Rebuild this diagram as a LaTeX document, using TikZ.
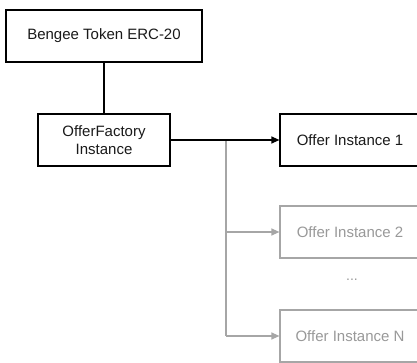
\documentclass[tikz,border=0pt]{standalone}
\usepackage{fontspec}
\setmainfont{Liberation Sans}
\usetikzlibrary{arrows.meta}
\definecolor{lgray}{HTML}{A6A6A6}
\definecolor{tgray}{HTML}{999999}
\definecolor{dtext}{HTML}{1A1A1A}
\begin{document}
\begin{tikzpicture}[x=1pt,y=-1pt,
  box/.style={draw=black,line width=1.2pt,fill=white,inner sep=0pt,align=center,text=dtext,font=\fontsize{15}{18}\selectfont},
  gbox/.style={box,draw=lgray,text=tgray},
  arr/.style={line width=1.2pt,-{Triangle[length=8pt,width=7pt]}}]
\useasboundingbox (0,0) rectangle (417,363);
\clip (0,0) rectangle (417,363);
\node[box,minimum width=196pt,minimum height=52pt] (tok) at (104,36) {Bengee Token ERC-20};
\node[box,minimum width=132pt,minimum height=52pt] (fac) at (104,140) {OfferFactory\\Instance};
\node[box,minimum width=140pt,minimum height=52pt] (o1) at (350,140) {Offer Instance 1};
\node[gbox,minimum width=140pt,minimum height=52pt] (o2) at (350,232) {Offer Instance 2};
\node[gbox,minimum width=140pt,minimum height=52pt] (on) at (350,336) {Offer Instance N};
\node[text=tgray,font=\fontsize{14}{16}\selectfont] (dots) at (352,280) {...};
\coordinate (br) at (226,140);
\draw[line width=1.2pt] (tok) -- (fac);
\draw[lgray,line width=1.2pt] (br) -- (br |- on.west);
\draw[arr,lgray] (br |- o2.west) -- (o2.west);
\draw[arr,lgray] (br |- on.west) -- (on.west);
\draw[arr] (fac.east) -- (o1.west);
\end{tikzpicture}
\end{document}
